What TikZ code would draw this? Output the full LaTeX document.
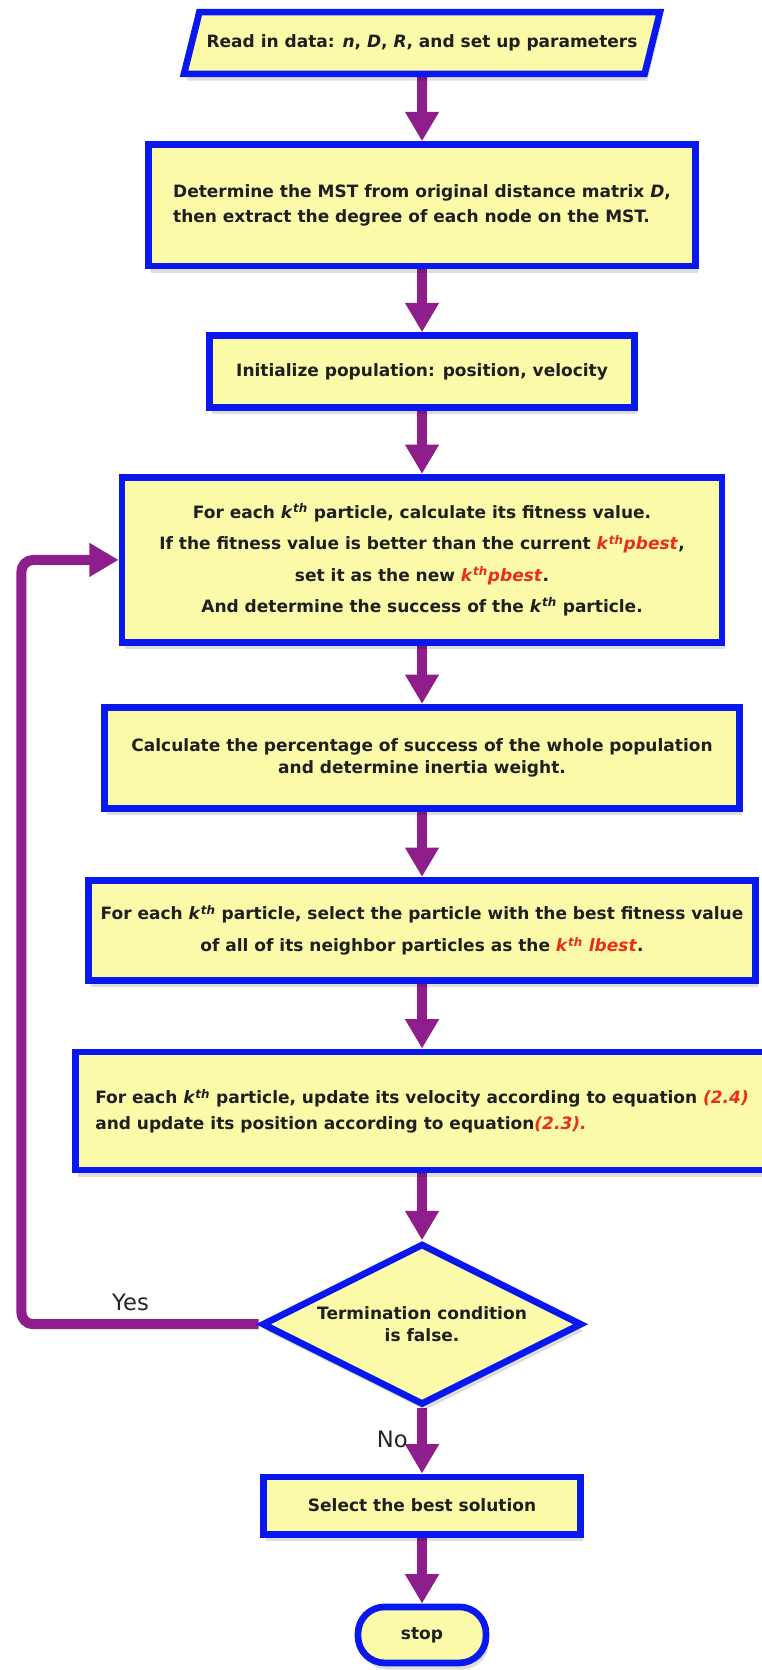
\documentclass[tikz,border=0pt]{standalone}
\usepackage{fontspec}
\setmainfont{DejaVu Sans}
\usepackage{xcolor}
\usetikzlibrary{positioning,arrows.meta,shapes.geometric,shadows,backgrounds}
\definecolor{boxfill}{RGB}{250,250,168}
\definecolor{boxline}{RGB}{8,24,238}
\definecolor{flowpurple}{RGB}{142,30,140}
\definecolor{hilite}{RGB}{232,48,24}
\newcommand{\kth}{\textit{k}\textsuperscript{\textit{th}}}
\tikzset{
  stepbox/.style={rectangle, draw=boxline, line width=5pt, fill=boxfill, align=center, inner sep=0pt,
    font=\bfseries\fontsize{12.75}{17}\selectfont, text=black!88,
    drop shadow={shadow xshift=2pt, shadow yshift=-5pt, opacity=0.13, fill=black}},
  iobox/.style={stepbox, trapezium, trapezium left angle=76, trapezium right angle=104, trapezium stretches body},
  testbox/.style={stepbox, diamond, aspect=2},
  endbox/.style={stepbox, rounded corners=20pt},
  flow/.style={-{Triangle[length=22pt, width=24pt]}, line width=7.5pt, draw=flowpurple},
  loopflow/.style={flow, rounded corners=9pt},
  lbl/.style={font=\fontsize{17}{20}\selectfont, text=black!85, inner sep=1pt}
}

\begin{document}
\begin{tikzpicture}[x=0.75pt, y=-0.75pt]
\useasboundingbox (0,0) rectangle (761,1670);
% main column
\node[iobox, inner ysep=17pt, minimum width=357pt] (rd) at (422,43) {Read in data: \textit{n}, \textit{D}, \textit{R}, and set up parameters};
\node[stepbox, below=48pt of rd, minimum width=410pt, minimum height=91pt, align=left,
  font=\bfseries\fontsize{12.75}{19}\selectfont] (mst) {Determine the MST from original distance matrix \textit{D},\\then extract the degree of each node on the MST.};
\node[stepbox, below=47.25pt of mst, minimum width=319pt, minimum height=54pt] (init) {Initialize population: position, velocity};
\node[stepbox, below=47.25pt of init, minimum width=450pt, minimum height=124pt,
  font=\bfseries\fontsize{12.75}{23.5}\selectfont] (fit) {For each \kth{} particle, calculate its fitness value.\\
  If the fitness value is better than the current \textcolor{hilite}{\kth\textit{pbest}},\\
  set it as the new \textcolor{hilite}{\kth\textit{pbest}}.\\
  And determine the success of the \kth{} particle.};
\node[stepbox, below=43.5pt of fit, minimum width=476pt, minimum height=76pt] (pct) {Calculate the percentage of success of the whole population\\and determine inertia weight.};
\node[stepbox, below=48.75pt of pct, minimum width=500pt, minimum height=75pt,
  font=\bfseries\fontsize{12.75}{24}\selectfont] (lb) {For each \kth{} particle, select the particle with the best fitness value\\of all of its neighbor particles as the \textcolor{hilite}{\kth{} \textit{lbest}}.};
\node[stepbox, below=48.75pt of lb, minimum width=520pt, minimum height=88.5pt, align=left,
  font=\bfseries\fontsize{12.75}{19}\selectfont] (upd) {For each \kth{} particle, update its velocity according to equation \textcolor{hilite}{\textit{(2.4)}}\\and update its position according to equation\textcolor{hilite}{\textit{(2.3).}}};
\node[testbox, below=50.25pt of upd, minimum width=240pt, minimum height=121pt,
  font=\bfseries\fontsize{12.75}{16}\selectfont] (dec) {Termination condition\\is false.};
\node[stepbox, below=49pt of dec, minimum width=238pt, minimum height=43pt] (best) {Select the best solution};
\node[endbox, below=49.5pt of best, minimum width=96pt, minimum height=42pt] (stop) {stop};
% connectors
\begin{scope}[on background layer]
\draw[flow] (rd) -- (mst);
\draw[flow] (mst) -- (init);
\draw[flow] (init) -- (fit);
\draw[flow] (fit) -- (pct);
\draw[flow] (pct) -- (lb);
\draw[flow] (lb) -- (upd);
\draw[flow] (upd) -- (dec);
\draw[flow] (dec) -- node[lbl, pos=0.47, left=6pt] {No} (best);
\draw[flow] (best) -- (stop);
\draw[loopflow] (dec.west) -| node[lbl, pos=0.27, above=5pt] {Yes} ([xshift=-73pt]fit.west) -- (fit.west);
\end{scope}
\end{tikzpicture}
\end{document}
